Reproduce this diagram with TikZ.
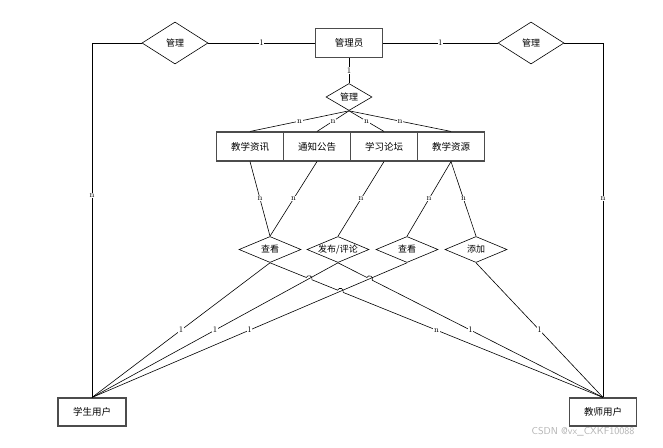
\documentclass[tikz,border=0pt]{standalone}
\usepackage{fontspec}
\newfontfamily\cjk{Noto Sans CJK SC}
\usetikzlibrary{shapes.geometric,intersections,calc}
\begin{document}
\begin{tikzpicture}[x=1pt,y=-1pt,
    ent/.style={draw=black!70,line width=1.1pt,minimum height=29pt,inner sep=0pt,font=\cjk\fontsize{9.5}{11}\selectfont},
    rel/.style={draw,diamond,inner sep=0pt,line width=.6pt},
    every label/.style={font=\cjk\fontsize{9}{11}\selectfont,inner sep=0pt},
    lbl/.style={fill=white,inner sep=.6pt,font=\fontsize{8.5}{9}\selectfont},
    link/.style={line width=.6pt}]
    \useasboundingbox (0,0) rectangle (663,447);
    \node[ent,minimum width=67pt] (adm) at (349,43) {管理员};
    \node[rel,minimum width=66pt,minimum height=42pt,label=center:管理] (mL) at (175,43) {};
    \node[rel,minimum width=66pt,minimum height=42pt,label=center:管理] (mR) at (531,43) {};
    \node[rel,minimum width=46pt,minimum height=27pt,label=center:管理] (mC) at (349,97) {};
    \foreach \t/\x [count=\i] in {教学资讯/250,通知公告/317,学习论坛/384,教学资源/451}
        \node[ent,minimum width=67pt] (e\i) at (\x,146.5) {\t};
    \node[rel,minimum width=62pt,minimum height=26pt,label=center:查看] (d1) at (270,249.5) {};
    \node[rel,minimum width=62pt,minimum height=26pt,label=center:发布/评论] (d2) at (338,249.5) {};
    \node[rel,minimum width=62pt,minimum height=26pt,label=center:查看] (d3) at (407,249.5) {};
    \node[rel,minimum width=62pt,minimum height=26pt,label=center:添加] (d4) at (476,249.5) {};
    \node[ent,minimum width=68pt,minimum height=28pt] (stu) at (92,412) {学生用户};
    \node[ent,minimum width=67pt,minimum height=28pt] (tea) at (603,412) {教师用户};
    \coordinate (cL) at (stu.north |- mL.west);
    \coordinate (cR) at (tea.north |- mR.east);
    \draw[link] (mL.east) -- node[lbl]{1} (adm.west);
    \draw[link] (adm.east) -- node[lbl]{1} (mR.west);
    \draw[link] (mL.west) -- (cL) -- node[lbl,pos=.43]{n} (stu.north);
    \draw[link] (mR.east) -- (cR) -- node[lbl,pos=.44]{n} (tea.north);
    \draw[link] (adm.south) -- node[lbl]{1} (mC.north);
    \foreach \i in {1,...,4}
        \draw[link] (mC.south) -- node[lbl]{n} (e\i.north);
    \draw[link] (e1.south) -- node[lbl]{n} (d1.north);
    \draw[link] (e2.south) -- node[lbl]{n} (d1.north);
    \draw[link] (e3.south) -- node[lbl]{n} (d2.north);
    \draw[link] (e4.south) -- node[lbl]{n} (d3.north);
    \draw[link] (e4.south) -- node[lbl]{n} (d4.north);
    \path[name path=pB] (d2.south) -- (stu.north);
    \path[name path=pC] (d3.south) -- (stu.north);
    \path[name path=pD] (d1.south) -- (tea.north);
    \path[name path=pE] (d2.south) -- (tea.north);
    \path[name intersections={of=pD and pB,by=j1}];
    \path[name intersections={of=pD and pC,by=j2}];
    \path[name intersections={of=pE and pC,by=j3}];
    \draw[link] (d1.south) -- node[lbl]{n} (tea.north);
    \draw[link] (d2.south) -- node[lbl]{1} (tea.north);
    \draw[link] (d4.south) -- node[lbl]{1} (tea.north);
    \foreach \j in {j1,j2,j3} \fill[white] (\j) circle (3pt);
    \foreach \j/\a in {j1/d1,j2/d1,j3/d2}
        \draw[link] let \p1=($(tea.north)-(\a.south)$), \n1={atan2(\y1,\x1)} in
            ($(\j)!3pt!(\a.south)$) arc[start angle=\n1+180,end angle=\n1,radius=3pt];
    \draw[link] (d1.south) -- node[lbl]{1} (stu.north);
    \draw[link] (d2.south) -- node[lbl]{1} (stu.north);
    \draw[link] (d3.south) -- node[lbl]{1} (stu.north);
    \node[font=\sffamily\fontsize{10}{12}\selectfont,text=black!30,anchor=east] (wm) at (638,432) {CSDN @vx\_CXKF10088};
\end{tikzpicture}
\end{document}
